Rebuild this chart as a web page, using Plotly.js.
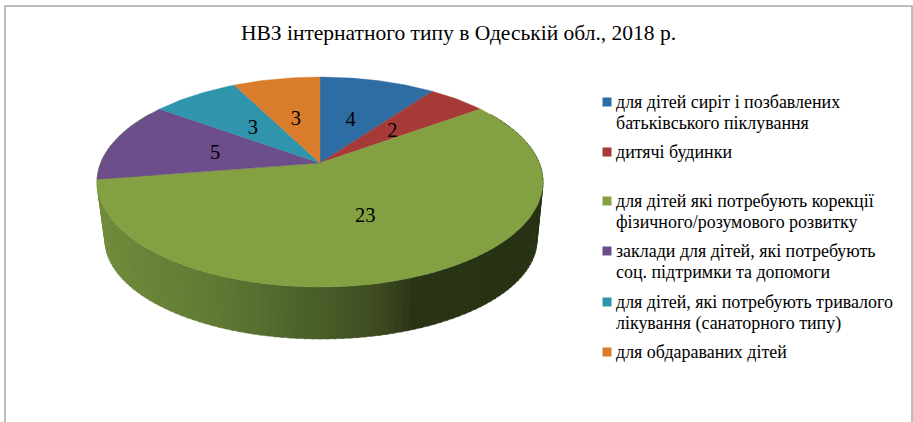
<!DOCTYPE html>
<html><head><meta charset="utf-8">
<script src="https://cdn.plot.ly/plotly-3.0.1.min.js"></script>
<style>html,body{margin:0;padding:0;background:#fff}#c{width:913px;height:422px}</style>
</head><body><div id="c"></div>
<script>
const categories = [
  "для дітей сиріт і позбавлених<br>батьківського піклування",
  "дитячі будинки",
  "для дітей які потребують корекції<br>фізичного/розумового розвитку",
  "заклади для дітей, які потребують<br>соц. підтримки та допомоги",
  "для дітей, які потребують тривалого<br>лікування (санаторного типу)",
  "для обдараваних дітей"
];
const values = [4, 2, 23, 5, 3, 3];
const colors = ["#2e6ca4", "#a63a36", "#83a042", "#6b4e8a", "#2f94ac", "#d97c2b"];
const titleText = "НВЗ інтернатного типу в Одеській обл., 2018 р.";

const FONT = "Liberation Serif";
// pie geometry in page pixels
const top3d = {cx: 320, cy: 182, rx: 223, ry: 105};
const bot3d = {cx: 321, cy: 240, rx: 216, ry: 99};
const persp = 0.181;
const labelDrop = 2.5;
const wallStops = [[100,[112,140,60]],[213,[96,122,52]],[313,[74,95,42]],[380,[61,74,32]],[413,[41,52,21]],[545,[40,50,20]]];

function project(r, deg) {
  const t = deg * Math.PI / 180, u = r * Math.sin(t), v = r * Math.cos(t);
  const den = 1 + persp * v;
  return {
    x: top3d.cx + top3d.rx * u * Math.sqrt(1 - persp * persp) / den,
    y: top3d.cy - top3d.ry * (v + persp) / den
  };
}
function wallColor(x) {
  for (let i = 1; i < wallStops.length; i++) {
    if (x <= wallStops[i][0]) {
      const a = wallStops[i-1], b = wallStops[i];
      const f = Math.max(0, (x - a[0]) / (b[0] - a[0]));
      return "rgb(" + a[1].map((c, k) => Math.round(c + (b[1][k] - c) * f)).join(",") + ")";
    }
  }
  return "rgb(40,50,20)";
}

const traces = [];
// side wall, drawn first, top face covers the hidden part
for (let p = 50; p < 310; p += 2) {
  const s0 = Math.sin(p*Math.PI/180), c0 = Math.cos(p*Math.PI/180);
  const s1 = Math.sin((p+2.5)*Math.PI/180), c1 = Math.cos((p+2.5)*Math.PI/180);
  const xs = [top3d.cx+top3d.rx*s0, top3d.cx+top3d.rx*s1, bot3d.cx+bot3d.rx*s1, bot3d.cx+bot3d.rx*s0];
  const ys = [top3d.cy-top3d.ry*c0, top3d.cy-top3d.ry*c1, bot3d.cy-bot3d.ry*c1, bot3d.cy-bot3d.ry*c0];
  const col = wallColor((xs[0]+xs[1]+xs[2]+xs[3])/4);
  traces.push({type:"scatter", mode:"lines", x:xs.concat(xs[0]), y:ys.concat(ys[0]), fill:"toself",
    fillcolor:col, line:{color:col, width:0.5}, hoverinfo:"skip", showlegend:false});
}
// top face slices from the values
const total = values.reduce((a, b) => a + b, 0);
let acc = 0;
const lx = [], ly = [], lt = [];
values.forEach((v, i) => {
  const a0 = acc / total * 360, a1 = (acc + v) / total * 360;
  const apex = project(0, 0), xs = [apex.x], ys = [apex.y];
  for (let d = a0; d < a1; d += 1) { const q = project(1, d); xs.push(q.x); ys.push(q.y); }
  const e = project(1, a1); xs.push(e.x, apex.x); ys.push(e.y, apex.y);
  traces.push({type:"scatter", mode:"lines", x:xs, y:ys, fill:"toself", fillcolor:colors[i],
    line:{color:colors[i], width:0.4}, hoverinfo:"skip", showlegend:false, name:categories[i]});
  const m = project(0.5, (a0 + a1) / 2);
  lx.push(m.x - 0.5); ly.push(m.y + labelDrop); lt.push(String(v));
  acc += v;
});
traces.push({type:"scatter", mode:"text", x:lx, y:ly, text:lt, textposition:"middle center",
  textfont:{family:FONT, size:20.5, color:"#000"}, hoverinfo:"skip", showlegend:false});

// legend
const legendTop = [102, 152, 201, 251, 302, 352];
const lineStep = 21;
traces.push({type:"scatter", mode:"markers", x:categories.map(() => 607), y:legendTop,
  marker:{symbol:"square", size:9, color:colors, line:{width:0}}, hoverinfo:"skip", showlegend:false});
const annotations = [];
categories.forEach((c, i) => c.split("<br>").forEach((part, k) => annotations.push({
  xref:"x", yref:"y", x:615, y:legendTop[i]+k*lineStep, xanchor:"left", yanchor:"middle", align:"left",
  text:part, showarrow:false, borderpad:0, font:{family:FONT, size:17.95, color:"#000"}
})));

const layout = {
  width:913, height:422, margin:{l:0, r:0, t:0, b:0, pad:0},
  paper_bgcolor:"#fff", plot_bgcolor:"#fff", showlegend:false, hovermode:false,
  title:{text:titleText, font:{family:FONT, size:21.5, color:"#000"}, x:458.5/913, xanchor:"center", y:1-32/422, yanchor:"middle"},
  xaxis:{range:[0,913], visible:false, fixedrange:true},
  yaxis:{range:[422,0], visible:false, fixedrange:true},
  annotations:annotations,
  shapes:[{type:"path", xref:"x", yref:"y", path:"M 5 422 L 5 6 L 912 6 L 912 422",
    line:{color:"#a6a6a6", width:1.5}, layer:"below"}]
};
Plotly.newPlot("c", traces, layout, {displayModeBar:false, staticPlot:true});
</script></body></html>
